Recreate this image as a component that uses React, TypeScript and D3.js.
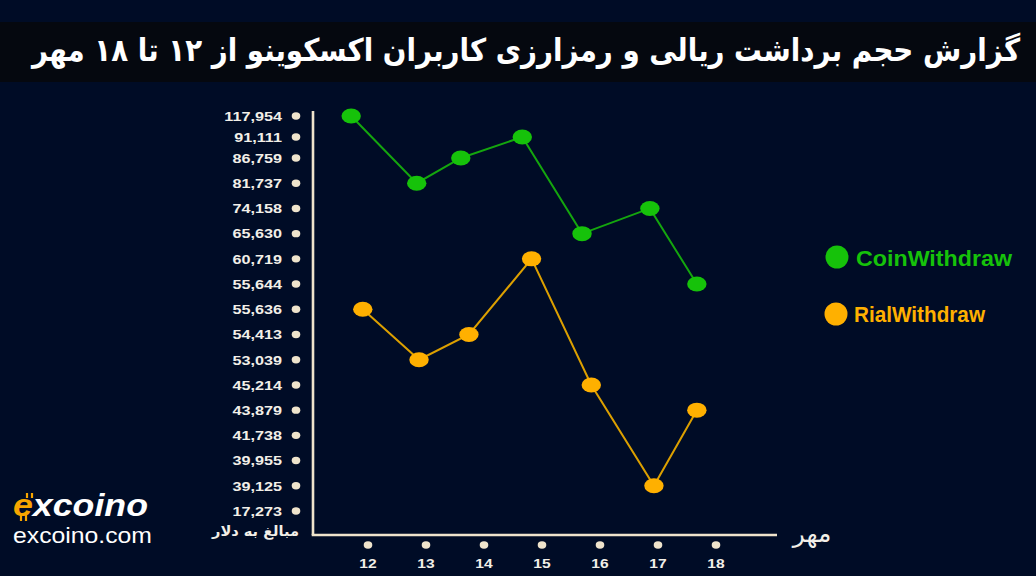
import React from 'react';
import * as d3 from 'd3';

const titleText = 'گزارش حجم برداشت ریالی و رمزارزی کاربران اکسکوینو از ۱۲ تا ۱۸ مهر';
const yAxisTitle = 'مبالغ به دلار';
const xAxisTitle = 'مهر';
const days = [12, 13, 14, 15, 16, 17, 18];
const yLabels = [
  '117,954', '91,111', '86,759', '81,737', '74,158', '65,630', '60,719', '55,644',
  '55,636', '54,413', '53,039', '45,214', '43,879', '41,738', '39,955', '39,125', '17,273',
];
const seriesNames = ['CoinWithdraw', 'RialWithdraw'];
const coinValues = [117954, 81737, 86759, 91111, 65630, 74158, 55644];
const rialValues = [55636, 53039, 54413, 60719, 45214, 39125, 43879];
// horizontal placement of each point, in day units
const coinDayPos = [11.71, 12.84, 13.6, 14.66, 15.69, 16.86, 17.67];
const rialDayPos = [11.91, 12.88, 13.74, 14.82, 15.85, 16.93, 17.67];

const BG = '#000c26';
const CREAM = '#efe4cc';
const GREEN = '#16c20a';
const GREEN_LINE = '#14a60e';
const ORANGE = '#ffb000';
const ORANGE_LINE = '#dca000';

const fmt = d3.format(',');

export default function App() {
  const x = d3.scaleLinear().domain([12, 18]).range([368, 716]);
  const y = d3.scaleLinear().domain([0, 2, yLabels.length - 1]).range([116, 158, 511]);
  const yOf = (v: number) => y(yLabels.indexOf(fmt(v)));

  const series = [
    { name: seriesNames[0], values: coinValues, pos: coinDayPos, fill: GREEN, stroke: GREEN_LINE, w: 156 },
    { name: seriesNames[1], values: rialValues, pos: rialDayPos, fill: ORANGE, stroke: ORANGE_LINE, w: 131 },
  ];

  const line = d3.line<[number, number]>().x((d) => x(d[0])).y((d) => yOf(d[1]));

  const axisX = 313;
  const axisY = 535;

  return (
    <svg
      width={1036}
      height={576}
      style={{ position: 'fixed', left: 0, top: 0, background: BG }}
      fontFamily="'Liberation Sans', Arial, sans-serif"
    >
      <rect x={0} y={0} width={1036} height={576} fill={BG} />
      {/* title band */}
      <rect x={0} y={22} width={1036} height={60} fill="#05080f" />
      <g transform="translate(526,61) scale(1,1.12)">
        <text
          x={0}
          y={0}
          textAnchor="middle"
          fill="#ffffff"
          fontFamily="'DejaVu Sans', sans-serif"
          fontWeight="bold"
          fontSize={28}
          direction="rtl"
          textLength={988}
          lengthAdjust="spacingAndGlyphs"
        >
          {titleText}
        </text>
      </g>

      {/* axes */}
      <line x1={axisX} y1={111} x2={axisX} y2={axisY} stroke={CREAM} strokeWidth={2.6} />
      <line x1={axisX - 1.3} y1={axisY} x2={777} y2={axisY} stroke={CREAM} strokeWidth={2.6} />

      {/* y labels */}
      {yLabels.map((lab, i) => (
        <g key={lab + i}>
          <ellipse cx={296} cy={y(i)} rx={4.3} ry={3.7} fill={CREAM} />
          <g transform={`translate(282,${y(i) + 4.8}) scale(1.2,1)`}>
            <text x={0} y={0} textAnchor="end" fill="#f2efe8" fontWeight="bold" fontSize={13.5}>
              {lab}
            </text>
          </g>
        </g>
      ))}
      <text
        x={255.5}
        y={536}
        textAnchor="middle"
        fill="#f2efe8"
        fontFamily="'DejaVu Sans', sans-serif"
        fontWeight="bold"
        fontSize={14}
        direction="rtl"
        textLength={87}
        lengthAdjust="spacingAndGlyphs"
      >
        {yAxisTitle}
      </text>

      {/* x ticks */}
      {days.map((d) => (
        <g key={d}>
          <ellipse cx={x(d)} cy={545} rx={4.3} ry={3.7} fill={CREAM} />
          <g transform={`translate(${x(d)},568) scale(1.25,1)`}>
            <text x={0} y={0} textAnchor="middle" fill="#f2efe8" fontWeight="bold" fontSize={12.5}>
              {d}
            </text>
          </g>
        </g>
      ))}
      <text
        x={812}
        y={542}
        textAnchor="middle"
        fill="#f2efe8"
        fontFamily="'DejaVu Sans', sans-serif"
        fontSize={25}
        direction="rtl"
      >
        {xAxisTitle}
      </text>

      {/* series */}
      {series.map((s) => {
        const pts: [number, number][] = s.values.map((v, i) => [s.pos[i], v]);
        return (
          <g key={s.name}>
            <path d={line(pts) || ''} fill="none" stroke={s.stroke} strokeWidth={2} />
            {pts.map((p, i) => (
              <ellipse key={i} cx={x(p[0])} cy={yOf(p[1])} rx={9.7} ry={7.5} fill={s.fill} />
            ))}
          </g>
        );
      })}

      {/* legend */}
      {series.map((s, i) => (
        <g key={'lg' + s.name}>
          <circle cx={837 - i} cy={257 + i * 57} r={11.5} fill={s.fill} />
          <text
            x={856 - i * 2}
            y={266 + i * 56}
            fill={s.fill}
            fontWeight="bold"
            fontSize={21.5}
            textLength={s.w}
            lengthAdjust="spacingAndGlyphs"
          >
            {s.name}
          </text>
        </g>
      ))}

      {/* logo */}
      <g>
        <text
          x={13}
          y={516}
          fill="#ffffff"
          fontWeight="bold"
          fontStyle="italic"
          fontSize={31}
          textLength={135}
          lengthAdjust="spacingAndGlyphs"
        >
          <tspan fill="#f7a600">e</tspan>
          <tspan>xcoino</tspan>
        </text>
        <line x1={27} y1={493} x2={27} y2={498} stroke="#f7a600" strokeWidth={2.2} />
        <line x1={32} y1={493} x2={32} y2={498} stroke="#f7a600" strokeWidth={2.2} />
        <line x1={21} y1={515} x2={21} y2={521} stroke="#f7a600" strokeWidth={2.2} />
        <line x1={26} y1={515} x2={26} y2={521} stroke="#f7a600" strokeWidth={2.2} />
        <text x={13} y={543} fill="#ffffff" fontSize={22} textLength={139} lengthAdjust="spacingAndGlyphs">
          excoino.com
        </text>
      </g>
    </svg>
  );
}
